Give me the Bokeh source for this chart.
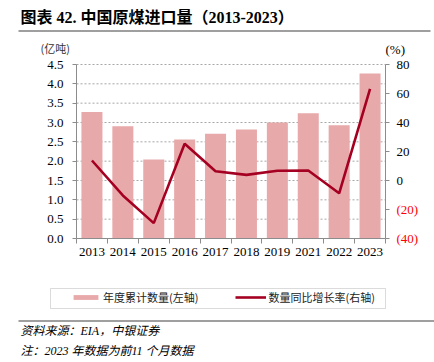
from bokeh.plotting import figure
from bokeh.models import (Range1d, LinearAxis, FixedTicker, CustomJSTickFormatter,
                          Label, BoxAnnotation, Legend, LegendItem)
from bokeh.embed import file_html
from bokeh.resources import INLINE

years = ["2013", "2014", "2015", "2016", "2017", "2018", "2019", "2021", "2022", "2023"]
volume = [3.27, 2.90, 2.04, 2.56, 2.71, 2.82, 3.00, 3.24, 2.93, 4.27]
yoy = [13.8, -10.3, -29.4, 25.3, 6.4, 3.9, 6.7, 6.9, -8.8, 63.2]
left_ticks = [0.0, 0.5, 1.0, 1.5, 2.0, 2.5, 3.0, 3.5, 4.0, 4.5]
right_ticks = [-40, -20, 0, 20, 40, 60, 80]
neg_labels = {-20: "(20)", -40: "(40)"}

SERIF = "'Liberation Serif', 'Noto Sans CJK SC'"
CJK = "'Noto Sans CJK SC'"
BAR = "#E8A9AA"
LINE = "#A50021"
AXC = "#8c8c8c"

# canvas / plot-area geometry (pixels)
W, H = 434, 362
PL, PR, PT, PB = 76, 385, 64, 238
n = len(years)
xc = [i + 0.5 for i in range(n)]

def lin_range(v0, v1, p0, p1, size):
    # v0 at pixel p0, v1 at pixel p1 -> range covering [0, size]
    k = (v1 - v0) / (p1 - p0)
    return v0 - p0 * k, v0 + (size - p0) * k

xs, xe = lin_range(0, n, PL, PR, W)
ys, ye = lin_range(0, 4.5, H - PB, H - PT, H)
rs, re_ = lin_range(-40, 80, H - PB, H - PT, H)

p = figure(width=W, height=H, output_backend="svg", toolbar_location=None, title=None,
           x_range=Range1d(xs, xe), y_range=Range1d(ys, ye), min_border=0,
           x_axis_type=None, y_axis_type=None)
p.outline_line_color = None
p.xgrid.visible = False
p.ygrid.visible = False
p.extra_y_ranges = {"pct": Range1d(rs, re_)}

# grid lines at left-axis ticks
gy = left_ticks[1:]
p.segment(x0=[0] * len(gy), x1=[n] * len(gy), y0=gy, y1=gy,
          line_color="#a6a6a6", line_dash="2 2", line_width=1)

bars = p.vbar(x=xc, top=volume, width=0.68, fill_color=BAR, line_color=None)
ln = p.line(x=xc, y=yoy, y_range_name="pct", line_color=LINE, line_width=2.6)

def style(ax):
    ax.axis_line_color = AXC
    ax.major_tick_line_color = AXC
    ax.major_label_text_font = SERIF
    ax.major_label_text_font_size = "13px"
    ax.major_label_text_color = "black"

# x axis
xa = LinearAxis(ticker=FixedTicker(ticks=xc, minor_ticks=list(range(n + 1))),
                fixed_location=0, bounds=(0, n))
style(xa)
xa.major_label_overrides = {x: y for x, y in zip(xc, years)}
xa.major_tick_line_color = None
xa.minor_tick_in = 0
xa.minor_tick_out = 5
xa.minor_tick_line_color = AXC
xa.major_label_standoff = 3
p.add_layout(xa, "below")

# left axis
ya = LinearAxis(ticker=FixedTicker(ticks=left_ticks), fixed_location=0, bounds=(0, 4.5),
                formatter=CustomJSTickFormatter(code="return tick.toFixed(1);"))
style(ya)
ya.minor_tick_line_color = None
ya.major_tick_in = 0
ya.major_tick_out = 4
ya.major_label_standoff = 9
p.add_layout(ya, "left")

# right axis
ra = LinearAxis(y_range_name="pct", ticker=FixedTicker(ticks=right_ticks), fixed_location=n,
                bounds=(-40, 80),
                formatter=CustomJSTickFormatter(code="return tick < 0 ? '' : tick.toFixed(0);"))
style(ra)
ra.minor_tick_line_color = None
ra.major_tick_in = 0
ra.major_tick_out = 4
ra.major_label_standoff = 7
p.add_layout(ra, "right")

for v, t in neg_labels.items():
    p.add_layout(Label(x=396, x_units="screen", y=v, y_range_name="pct", text=t,
                       text_align="left", text_baseline="middle", text_color="#FF0000",
                       text_font=SERIF, text_font_size="13px"))

def slabel(x, y, text, font, size, style="normal", color="black"):
    p.add_layout(Label(x=x, y=H - y, x_units="screen", y_units="screen", text=text,
                       text_font=font, text_font_size=size, text_font_style=style,
                       text_baseline="middle", text_align="left", text_color=color))

def hrule(x0, x1, y, color="#404040"):
    p.add_layout(BoxAnnotation(left=x0, right=x1, top=H - y, bottom=H - y - 1,
                               left_units="screen", right_units="screen", top_units="screen",
                               bottom_units="screen", fill_color=color, fill_alpha=1,
                               line_color=None))

# title + rule
slabel(20, 16.5, "图表 42. 中国原煤进口量（2013-2023）", SERIF, "16px", "bold")
hrule(18, 430, 30)

# units
slabel(40, 47, "(亿吨)", CJK, "11px", color="#333333")
slabel(385, 49, "(%)", SERIF, "13px")

# legend box
p.add_layout(BoxAnnotation(left=50, right=385, top=H - 288, bottom=H - 308,
                           left_units="screen", right_units="screen", top_units="screen",
                           bottom_units="screen", fill_alpha=0, line_color="#888888",
                           line_width=1))
legend = Legend(items=[LegendItem(label="年度累计数量(左轴)", renderers=[bars]),
                       LegendItem(label="数量同比增长率(右轴)", renderers=[ln])],
                location=(70, H - 305), orientation="horizontal",
                border_line_color=None, background_fill_alpha=0,
                padding=0, margin=0, spacing=37, glyph_width=31, glyph_height=6,
                label_height=12, label_standoff=2,
                label_text_font=CJK, label_text_font_size="11px", label_text_color="#222222")
p.add_layout(legend, "center")

# separator & notes
hrule(18, 434, 320)
slabel(20, 330, "资料来源：EIA，中银证券", SERIF, "12px", "italic")
slabel(20, 350, "注：2023 年数据为前11 个月数据", SERIF, "12px", "italic")

open("out.html", "w").write(file_html(p, INLINE))
